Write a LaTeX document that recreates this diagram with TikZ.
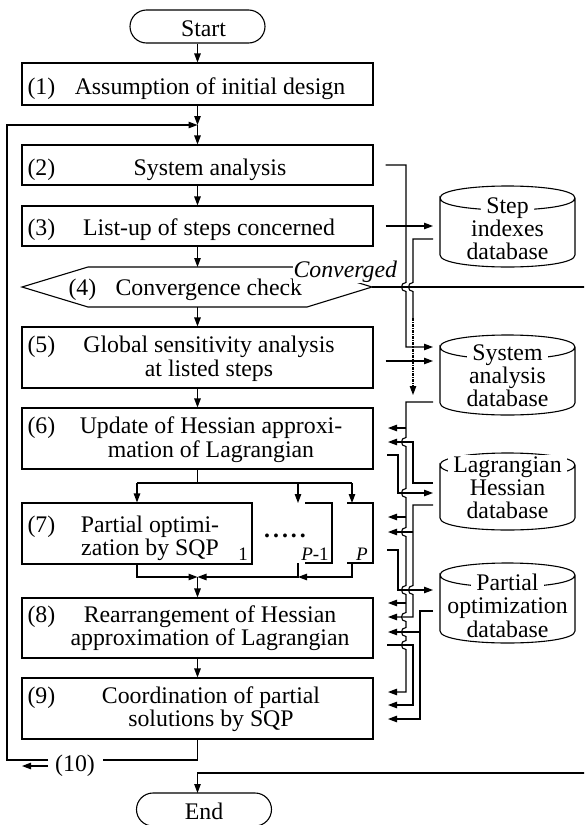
\documentclass[tikz,border=0pt]{standalone}
\usepackage{fontspec}
\setmainfont{Liberation Serif}
\usetikzlibrary{arrows.meta}
\newcommand\vjmp[2]{-- (#1,#2-4.5) .. controls (#1-6,#2-4.5) and (#1-6,#2+4.5) .. (#1,#2+4.5)}
\newcommand\dbcyl[2]{%
  \draw (440,#1+12) .. controls (440,#1-4) and (575,#1-4) .. (575,#1+12)
        .. controls (575,#1+28) and (440,#1+28) .. (440,#1+12)
        -- (440,#2-12) .. controls (440,#2+4) and (575,#2+4) .. (575,#2-12) -- (575,#1+12);}
\begin{document}
\begin{tikzpicture}[x=1pt,y=-1pt,line width=1.1pt,
  box/.style={draw,rectangle,inner sep=0pt},
  term/.style={draw,rectangle,rounded corners=16.5pt,inner sep=0pt,minimum width=135pt,minimum height=33pt},
  tx/.style={anchor=base,inner sep=0pt,font=\fontsize{23.8}{23}\selectfont},
  lb/.style={anchor=base west,inner sep=0pt,font=\fontsize{23.8}{23}\selectfont},
  sm/.style={anchor=base,inner sep=0pt,font=\fontsize{19}{19}\selectfont},
  dbt/.style={anchor=base,inner xsep=5pt,inner ysep=1.5pt,fill=white,font=\fontsize{23.8}{23}\selectfont},
  arr/.style={-{Triangle[length=9pt,width=6.5pt]}},
]
\clip (0,0) rectangle (584,825);
\fill[white] (0,0) rectangle (584,825);

% ---------- main column ----------
\node[term] (start) at (197.5,26.5) {};
\node[tx] (tstart) at (203.5,36) {Start};

\node[box,minimum width=351pt,minimum height=42pt] (b1) at (197.5,84) {};
\node[lb] (l1) at (27,94) {(1)};
\node[tx] (t1) at (210,94) {Assumption of initial design};

\node[box,minimum width=351pt,minimum height=40pt] (b2) at (197.5,165) {};
\node[lb] (l2) at (27,175) {(2)};
\node[tx] (t2) at (210,175) {System analysis};

\node[box,minimum width=351pt,minimum height=40pt] (b3) at (197.5,226) {};
\node[lb] (l3) at (27,235) {(3)};
\node[tx] (t3) at (209,235) {List-up of steps concerned};

\draw (22,287) -- (88,267) -- (307,267) -- (372,287) -- (307,307) -- (88,307) -- cycle;
\coordinate (h4n) at (197.5,267);
\coordinate (h4s) at (197.5,307);
\coordinate (h4e) at (372,287);
\node[lb] (l4) at (68,295) {(4)};
\node[lb] (t4) at (115,295) {Convergence check};
\node[anchor=base west,inner xsep=1pt,inner ysep=1pt,fill=white,font=\itshape\fontsize{23.8}{23}\selectfont] (conv) at (292,277) {Converged};

\node[box,minimum width=351pt,minimum height=61pt] (b5) at (197.5,357.5) {};
\node[lb] (l5) at (27,352) {(5)};
\node[tx] (t5a) at (209,352) {Global sensitivity analysis};
\node[tx] (t5b) at (209,376) {at listed steps};

\node[box,minimum width=351pt,minimum height=61pt] (b6) at (197.5,438.5) {};
\node[lb] (l6) at (27,433) {(6)};
\node[tx] (t6a) at (211,433) {Update of Hessian approxi-};
\node[tx] (t6b) at (211,457) {mation of Lagrangian};

\node[box,minimum width=230pt,minimum height=61pt] (b7) at (137,533.5) {};
\node[lb] (l7) at (27,532) {(7)};
\node[tx] (t7a) at (150,532) {Partial optimi-};
\node[tx] (t7b) at (150,555) {zation by SQP};
\node[sm] (s1) at (243,560) {1};
\node[tx,font=\bfseries\fontsize{23.8}{23}\selectfont] (dots) at (285,537) {.\kern3pt.\kern3pt.\kern3pt.\kern3pt.};
\draw (305,503) -- (332,503) -- (332,563) -- (305,563);
\draw (347,503) -- (373,503) -- (373,563) -- (347,563);
\node[sm] (sP1) at (315,560) {\textit{P}-1};
\node[sm] (sP) at (362,560) {\textit{P}};

\node[box,minimum width=351pt,minimum height=60pt] (b8) at (197.5,628) {};
\node[lb] (l8) at (27,622) {(8)};
\node[tx] (t8a) at (210,622) {Rearrangement of Hessian};
\node[tx] (t8b) at (210,645) {approximation of Lagrangian};

\node[box,minimum width=351pt,minimum height=61pt] (b9) at (197.5,708.5) {};
\node[lb] (l9) at (27,703) {(9)};
\node[tx] (t9a) at (211,703) {Coordination of partial};
\node[tx] (t9b) at (211,726) {solutions by SQP};

\node[tx] (l10) at (75,771) {(10)};

\node[term] (end) at (204,809.5) {};
\node[tx] (tend) at (204,819) {End};

% ---------- main connectors ----------
\coordinate (m1) at (197.5,125);
\draw[arr] (start.south) -- (b1.north);
\draw[arr] (b1.south) -- (m1);
\draw[arr] (m1) -- (b2.north);
\draw[arr] (b2.south) -- (b3.north);
\draw[arr] (b3.south) -- (h4n);
\draw[arr] (h4s) -- (b5.north);
\draw[arr] (b5.south) -- (b6.north);

\coordinate (m6) at (197.5,483);
\coordinate (p1n) at (298,503);
\coordinate (pPn) at (352,503);
\draw (b6.south) -- (m6);
\draw (b7.north |- m6) -- (pPn |- m6);
\draw[arr] (b7.north |- m6) -- (b7.north);
\draw[arr] (p1n |- m6) -- (p1n);
\draw[arr] (pPn |- m6) -- (pPn);

\coordinate (m7) at (197.5,577);
\coordinate (p1s) at (298,563);
\coordinate (pPs) at (352,563);
\draw[arr] (b7.south) |- (m7);
\draw[arr] (pPs) |- (p1s |- m7);
\draw[arr] (p1s) |- (m7);
\draw[arr] (m7) -- (b8.north);
\draw[arr] (b8.south) -- (b9.north);

\coordinate (r10) at (103,760);
\coordinate (q10) at (48,760);
\draw (b9.south) |- (r10);
\draw[arr] (q10) -| (7,125) -- (m1);
\coordinate (a10s) at (48,766);
\coordinate (a10e) at (22,766);
\draw[arr] (a10s) -- (a10e);

\coordinate (convR) at (590,287);
\draw (h4e) -- (convR);
\coordinate (endR) at (590,773);
\coordinate (endin) at (197.5,793);
\draw[arr] (endR) -| (endin);

% ---------- databases ----------
\dbcyl{186}{267}
\node[dbt] (d1a) at (507.5,213) {Step};
\node[tx] (d1b) at (507.5,236) {indexes};
\node[tx] (d1c) at (507.5,259) {database};

\dbcyl{335}{415}
\node[dbt] (d2a) at (507.5,360) {System};
\node[tx] (d2b) at (507.5,383) {analysis};
\node[tx] (d2c) at (507.5,406) {database};

\dbcyl{453}{530}
\node[dbt] (d3a) at (507.5,472) {Lagrangian};
\node[tx] (d3b) at (507.5,495) {Hessian};
\node[tx] (d3c) at (507.5,518) {database};

\dbcyl{563}{643}
\node[dbt] (d4a) at (507.5,590) {Partial};
\node[tx] (d4b) at (507.5,613) {optimization};
\node[tx] (d4c) at (507.5,637) {database};

% ---------- right-hand wiring ----------
% (2) -> system analysis db
\draw[arr] ([xshift=12pt]b2.east) -- (406,165) \vjmp{406}{287} -- (406,347) -- (433,347);
% (3) -> step indexes db
\draw[arr] ([xshift=12pt]b3.east) -- (433,226);
% step indexes db -> (dotted)
\draw (433,239) -- (413,239) \vjmp{413}{287} -- (413,318);
\draw[arr,densely dashdotted] (413,318) -- (413,395);
% (5) -> system analysis db
\draw[arr] ([xshift=12pt]b5.east |- 0,361) -- (433,361);
% system analysis db bus
\draw[arr] (433,402) -- (406,402) \vjmp{406}{442} \vjmp{406}{493} \vjmp{406}{532}
   \vjmp{406}{590} \vjmp{406}{617} \vjmp{406}{632} \vjmp{406}{645} -- (406,692) -- (388,692);
\draw[arr] (406,428) -- (388,428);
\draw[arr] (406,517) -- (388,517);
\draw[arr] (406,603) -- (388,603);
% Lagrangian db -> (6)
\draw[arr] (433,483) -- (413,483) -- (413,442) -- (388,442);
% (6) -> Lagrangian db
\draw[arr] (387,455) -- (398,455) -- (398,493) -- (433,493);
% Lagrangian db -> (7), (8)
\draw[arr] (433,505) -- (413,505) \vjmp{413}{590} -- (413,617) -- (388,617);
\draw[arr] (413,532) -- (388,532);
% (7) -> partial optimization db
\draw[arr] (387,550) -- (398,550) -- (398,590) -- (433,590);
% partial optimization db -> (8), (9)
\draw[arr] (433,611) -- (420,611) -- (420,719) -- (388,719);
\draw[arr] (420,632) -- (388,632);
% (8) -> (9)
\draw[arr] (387,645) -- (413,645) -- (413,705) -- (388,705);
\end{tikzpicture}
\end{document}
